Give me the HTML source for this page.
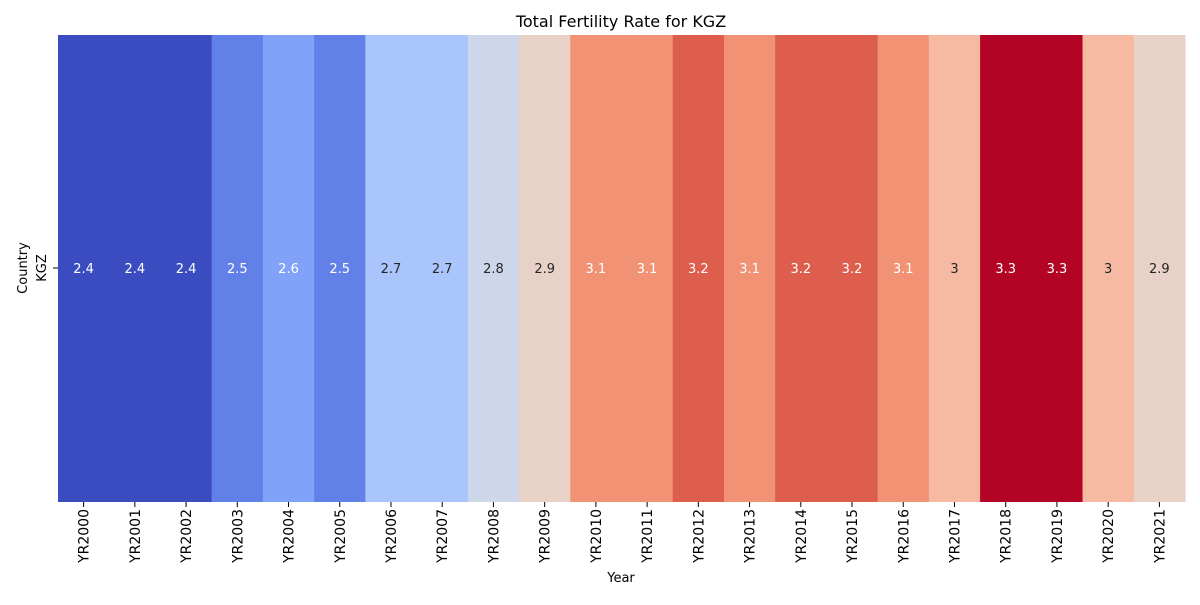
<!DOCTYPE html>
<html><head><meta charset="utf-8"><style>
body{margin:0;background:#fff;}
svg text{font-family:"DejaVu Sans","Liberation Sans",sans-serif;}
</style></head><body>
<svg id="chart" width="1200" height="600" xmlns="http://www.w3.org/2000/svg">
<text x="621" y="27" font-size="16" text-anchor="middle">Total Fertility Rate for KGZ</text>
<text transform="translate(27,268) rotate(-90)" font-size="13" text-anchor="middle">Country</text>
<text transform="translate(46,268) rotate(-90)" font-size="13" text-anchor="middle">KGZ</text>
<line x1="53" y1="268" x2="58" y2="268" stroke="#000" stroke-width="1"/>
<text x="621" y="582" font-size="13" text-anchor="middle">Year</text>
<g id="cells"></g>
</svg>
<script>
const years = ["YR2000","YR2001","YR2002","YR2003","YR2004","YR2005","YR2006","YR2007","YR2008","YR2009","YR2010","YR2011","YR2012","YR2013","YR2014","YR2015","YR2016","YR2017","YR2018","YR2019","YR2020","YR2021"];
const values = [2.4,2.4,2.4,2.51,2.59,2.51,2.70,2.70,2.80,2.90,3.09,3.09,3.19,3.09,3.19,3.19,3.09,2.99,3.3,3.3,2.99,2.9];
const stops = [[59,76,192],[98,130,234],[141,176,254],[184,208,249],[221,221,221],[245,196,173],[244,154,123],[222,96,77],[180,4,38]];
const x0=58,x1=1185,y0=35,y1=502;
const vmin=Math.min(...values),vmax=Math.max(...values);
const cw=(x1-x0)/years.length;
function xScale(i){return x0+i*cw;}
function color(v){
  let t=(v-vmin)/(vmax-vmin);t=Math.max(0,Math.min(1,t));
  const p=t*(stops.length-1);const i=Math.min(Math.floor(p),stops.length-2);const f=p-i;
  return stops[i].map((c,k)=>Math.round(c+(stops[i+1][k]-c)*f));
}
function lum(c){const l=c.map(x=>{x/=255;return x<=0.03928?x/12.92:Math.pow((x+0.055)/1.055,2.4);});return 0.2126*l[0]+0.7152*l[1]+0.0722*l[2];}
const g=document.getElementById('cells');const NS="http://www.w3.org/2000/svg";
values.forEach((v,i)=>{
  const c=color(v);const x=xScale(i);
  const r=document.createElementNS(NS,'rect');
  r.setAttribute('x',x);r.setAttribute('y',y0);r.setAttribute('width',cw+0.5);r.setAttribute('height',y1-y0);
  r.setAttribute('fill',`rgb(${c.join(',')})`);
  
  
  g.appendChild(r);
  const t=document.createElementNS(NS,'text');
  t.setAttribute('x',x+cw/2);t.setAttribute('y',273);t.setAttribute('font-size','13');t.setAttribute('text-anchor','middle');
  t.setAttribute('fill',lum(c)>0.408?'#262626':'#fff');
  t.textContent=String(Number(v.toFixed(1)));
  
  
  g.appendChild(t);
  const tk=document.createElementNS(NS,'line');
  tk.setAttribute('x1',x+cw/2);tk.setAttribute('x2',x+cw/2);tk.setAttribute('y1',y1);tk.setAttribute('y2',y1+5);tk.setAttribute('stroke','#000');
  
  
  g.appendChild(tk);
  const lb=document.createElementNS(NS,'text');
  lb.setAttribute('transform',`translate(${x+cw/2+5},509) rotate(-90)`);
  lb.setAttribute('font-size','14');lb.setAttribute('text-anchor','end');
  lb.textContent=years[i];
  
  
  g.appendChild(lb);
});
</script>
</body></html>
